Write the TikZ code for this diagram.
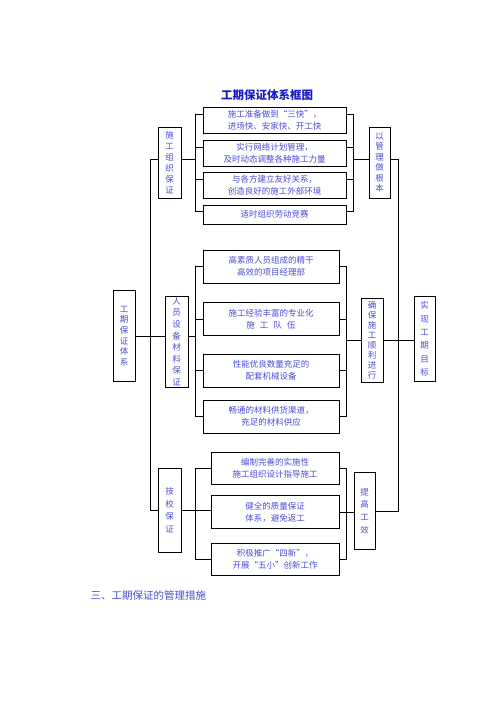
\documentclass[tikz,border=0pt]{standalone}
\usepackage{fontspec}
\setmainfont{Noto Sans CJK SC}
\usetikzlibrary{positioning}
\definecolor{txtblue}{RGB}{75,75,215}
\definecolor{titleblue}{RGB}{25,25,200}

\begin{document}
\begin{tikzpicture}[
    x=1pt, y=-1pt,
    every node/.style={font=\fontsize{8.5}{12}\selectfont, text=txtblue},
    item/.style={draw, line width=0.8pt, inner sep=0pt, align=center},
    vbox/.style={item, font=\fontsize{8.5}{11}\selectfont},
    link/.style={line width=0.8pt}
]
\useasboundingbox (0,0) rectangle (496,702);

% Title
\node[font=\fontsize{11.5}{14}\selectfont\bfseries, text=titleblue] (title) at (267,95) {工期保证体系框图};

% Organisation group
\node[item, minimum width=143pt, minimum height=26pt] (a1) at (274.5,120) {施工准备做到“三快”，\\进场快、安家快、开工快};
\node[item, minimum width=143pt, minimum height=26pt] (a2) at (274.5,153) {实行网络计划管理，\\及时动态调整各种施工力量};
\node[item, minimum width=143pt, minimum height=26pt] (a3) at (274.5,185) {与各方建立友好关系，\\创造良好的施工外部环境};
\node[item, minimum width=143pt, minimum height=19pt] (a4) at (274.5,214.5) {适时组织劳动竞赛};
\node[vbox, minimum width=23pt, minimum height=71pt] (ga) at (169.5,162.5) {施\\工\\组\\织\\保\\证};
\node[vbox, minimum width=21pt, minimum height=71pt, font=\fontsize{8.5}{10.5}\selectfont] (ra) at (379.5,162.5) {以\\管\\理\\做\\根\\本};

\draw[link] ([yshift=6pt]a1.west) -- ++(-7,0) |- ([yshift=3.5pt]a4.west);
\draw[link] ([yshift=6pt]a2.west) -- ++(-7,0);
\draw[link] ([yshift=6pt]a3.west) -- ++(-7,0);
\draw[link] ([yshift=6pt]a1.east) -- ++(7,0) |- ([yshift=3.5pt]a4.east);
\draw[link] ([yshift=6pt]a2.east) -- ++(7,0);
\draw[link] ([yshift=6pt]a3.east) -- ++(7,0);
\draw[link] ([yshift=3.5pt]ga.east) -- ++(15,0);
\draw[link] ([yshift=3.5pt]ra.west) -- ++(-16,0);

% Staff, equipment and material group
\node[vbox, minimum width=22pt, minimum height=91pt, font=\fontsize{8.5}{10.7}\selectfont] (root) at (124,336) {工\\期\\保\\证\\体\\系};
\node[item, minimum width=136pt, minimum height=33pt] (b1) at (271,266.5) {高素质人员组成的精干\\高效的项目经理部};
\node[item, minimum width=136pt, minimum height=33pt] (b2) at (271,319) {施工经验丰富的专业化\\施\hspace{0.6em}工\hspace{0.6em}队\hspace{0.6em}伍};
\node[item, minimum width=136pt, minimum height=33pt] (b3) at (271,370.5) {性能优良数量充足的\\配套机械设备};
\node[item, minimum width=136pt, minimum height=33pt] (b4) at (271,416.5) {畅通的材料供货渠道，\\充足的材料供应};
\node[vbox, minimum width=23pt, minimum height=91pt, font=\fontsize{8.5}{11.6}\selectfont] (gb) at (176.5,341.5) {人\\员\\设\\备\\材\\料\\保\\证};
\node[vbox, minimum width=22pt, minimum height=84pt, font=\fontsize{8.5}{10}\selectfont] (rb) at (372,340) {确\\保\\施\\工\\顺\\利\\进\\行};
\node[vbox, minimum width=21pt, minimum height=85pt, font=\fontsize{8.5}{13.4}\selectfont] (goal) at (424.5,339) {实\\现\\工\\期\\目\\标};

\draw[link] (root.east) -- (root.east -| gb.west);
\draw[link] (gb.east |- root.east) -- ++(8,0);
\draw[link] (b1.west) -- ++(-7,0) |- (b4.west);
\draw[link] (b2.west) -- ++(-7,0);
\draw[link] (b3.west) -- ++(-7,0);
\draw[link] (b1.east) -- ++(7,0) |- (b4.east);
\draw[link] (b2.east) -- ++(7,0);
\draw[link] (b3.east) -- ++(7,0);
\draw[link] (rb.west) -- ++(-15,0);
\draw[link] (rb.east) -- (rb.east -| goal.west);

% Technical group
\node[item, minimum width=128pt, minimum height=32pt] (c1) at (275,468) {编制完善的实施性\\施工组织设计指导施工};
\node[item, minimum width=128pt, minimum height=33pt] (c2) at (275,512) {健全的质量保证\\体系，避免返工};
\node[item, minimum width=128pt, minimum height=32pt] (c3) at (275,559) {积极推广“四新”，\\开展“五小”创新工作};
\node[vbox, minimum width=23pt, minimum height=84pt, font=\fontsize{8.5}{12.5}\selectfont] (gc) at (169.5,510) {技\\校\\保\\证};
\node[vbox, minimum width=21pt, minimum height=77pt, font=\fontsize{8.5}{12.8}\selectfont] (rc) at (364.5,511) {提\\高\\工\\效};

\draw[link] (gc.east) -- (gc.east -| c2.west);
\draw[link] (c1.west) -- ++(-15,0) |- (c3.west);
\draw[link] (c1.east) -- ++(7,0) |- (c3.east);
\draw[link] (c2.east) -- (c2.east -| rc.west);

% Trunks
\draw[link] ([yshift=3.5pt]ga.west) -- ++(-7,0) |- (gc.west);
\draw[link] ([yshift=3.5pt]ra.east) -- ++(8,0) |- (rc.east);

% Next section
\node[anchor=west, font=\fontsize{10.5}{12}\selectfont] (note) at (87,596) {三、工期保证的管理措施};

\end{tikzpicture}
\end{document}
